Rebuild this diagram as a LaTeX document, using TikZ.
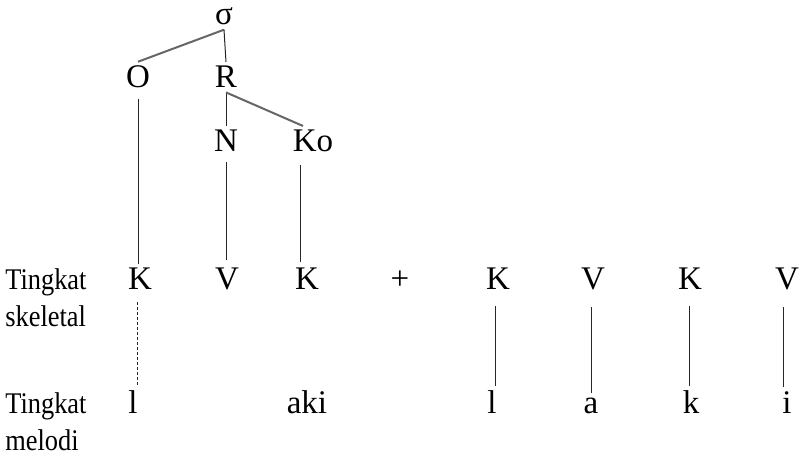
\documentclass[tikz,border=0pt]{standalone}
\usepackage{fontspec}
\setmainfont{Liberation Serif}
\usepackage{tikz}

\tikzset{
  seg/.style={anchor=base, inner sep=2pt, font=\fontsize{16.5}{20}\selectfont},
  lvl/.style={anchor=base west, inner sep=0pt, font=\fontsize{15}{18}\selectfont, xscale=0.88, transform shape},
  thin link/.style={line width=0.5pt, black!85},
  grey link/.style={line width=1pt, black!60},
}

\begin{document}
\begin{tikzpicture}[x=0.5pt,y=-0.5pt]
\useasboundingbox (0,0) rectangle (802,459);

\node[seg] (S) at (224,25) {σ};
\node[seg] (O) at (138,88) {O};
\node[seg] (R) at (226,88) {R};
\node[seg] (N) at (226,152) {N};
\node[seg] (KO) at (313,152) {Ko};

\node[lvl] (TS) at (5,290) {Tingkat};
\node[lvl] (SK) at (5,327) {skeletal};
\node[lvl] (TM) at (5,413) {Tingkat};
\node[lvl] (ME) at (5,450) {melodi};

\node[seg] (K1) at (140,290) {K};
\node[seg] (V1) at (227,290) {V};
\node[seg] (K2) at (307,290) {K};
\node[seg] (PL) at (400,290) {+};
\node[seg] (K3) at (498,290) {K};
\node[seg] (V2) at (593,290) {V};
\node[seg] (K4) at (690,290) {K};
\node[seg] (V3) at (787,290) {V};

\node[seg] (L1) at (133,413) {l};
\node[seg] (AKI) at (307,413) {aki};
\node[seg] (L2) at (492,413) {l};
\node[seg] (A) at (591,413) {a};
\node[seg] (KK) at (691,413) {k};
\node[seg] (I) at (787,413) {i};

\draw[grey link] (S.south) -- (O.north);
\draw[thin link] (S.south) -- (R.north);
\draw[thin link] (R.south) -- (N.north);
\draw[grey link] (R.south) -- ([xshift=-5pt]KO.north);

\draw[thin link, shorten <=3pt] (O.south) -- (O.south |- K1.north);
\draw[thin link, shorten <=3pt, shorten >=2pt] (N.south) -- (N.south |- V1.north);
\draw[thin link, shorten <=4pt, shorten >=1pt] ([xshift=-6.5pt]KO.south) -- ([xshift=-6.5pt]KO.south |- K2.north);

\draw[thin link, dash pattern=on 1.5pt off 1pt, shorten <=4pt] ([xshift=-1.5pt]K1.south) -- ([xshift=-1.5pt]K1.south |- L1.north);
\draw[thin link, shorten <=6pt] ([xshift=-1.5pt]K3.south) -- ([xshift=-1.5pt]K3.south |- L2.north);
\draw[thin link, shorten <=6pt] ([xshift=-1pt]V2.south) -- ([xshift=-1pt]V2.south |- A.north);
\draw[thin link, shorten <=6pt] ([xshift=-0.5pt]K4.south) -- ([xshift=-0.5pt]K4.south |- KK.north);
\draw[thin link, shorten <=6pt] ([xshift=-2pt]V3.south) -- ([xshift=-2pt]V3.south |- I.north);
\end{tikzpicture}
\end{document}
